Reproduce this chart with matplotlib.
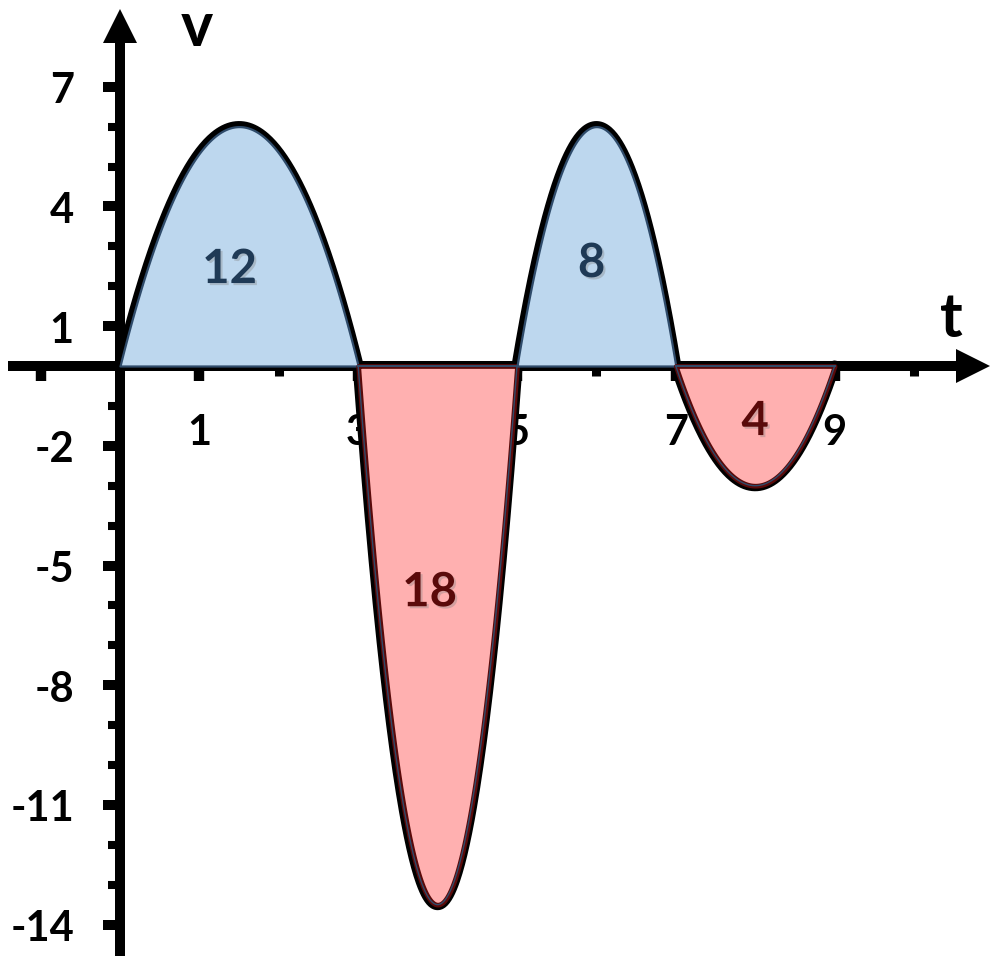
import numpy as np
import matplotlib
matplotlib.use("Agg")
import matplotlib.pyplot as plt
from matplotlib.patches import Polygon
from matplotlib.ticker import FixedLocator, FixedFormatter, NullFormatter
import matplotlib.patheffects as pe

# ---------------- data ----------------
roots = [0, 3, 5, 7, 9]            # zero crossings of v(t)
extrema = [6, -13.5, 6, -3]        # peak value of each lobe
areas = ["12", "18", "8", "4"]     # area label of each lobe
x_major = [-1, 1, 3, 5, 7, 9]
x_minor = [0, 2, 4, 6, 8, 10]
x_labels = ["", "1", "3", "5", "7", "9"]
y_major = [7, 4, 1, -2, -5, -8, -11, -14]
y_minor = [6, 5, 3, 2, 0, -1, -3, -4, -6, -7, -9, -10, -12, -13]
y_labels = ["7", "4", "1", "-2", "-5", "-8", "-11", "-14"]

# ---------------- style ----------------
FONT = "Lato"
pos_fill = "#bdd7ee"
neg_fill = "#ffb0b0"
pos_text = "#1f3a56"
neg_text = "#5a0a0a"
edge_blue = "#2f4b6a"
label_dx = [-0.12, -0.1, -0.06, 0.0]
label_fy = [0.405, 0.42, 0.43, 0.46]

fig = plt.figure(figsize=(10, 9.7), dpi=100)
ax = fig.add_axes([0, 0, 1, 1])
ax.set_facecolor("white")

px_x = 79.4   # px per x unit
px_y = 39.9   # px per y unit
x0_px, y0_px = 120, 367
ax.set_xlim(-x0_px / px_x, (1000 - x0_px) / px_x)
ax.set_ylim((y0_px - 970) / px_y, y0_px / px_y)

# spines as axes through origin
for s in ["top", "right"]:
    ax.spines[s].set_visible(False)
for s in ["left", "bottom"]:
    ax.spines[s].set_position(("data", 0))
    ax.spines[s].set_linewidth(7.2)
    ax.spines[s].set_capstyle("butt")
    ax.spines[s].set_zorder(2.5)
x_lo, x_hi = (8 - x0_px) / px_x, (958 - x0_px) / px_x
y_lo, y_hi = (y0_px - 957) / px_y, (y0_px - 42) / px_y
ax.spines["bottom"].set_bounds(x_lo, x_hi)
ax.spines["left"].set_bounds(y_lo, y_hi)

# arrow heads
hl, hw = 34, 17
ax.add_patch(Polygon([[x_hi - 2 / px_x, hw / px_y], [x_hi + (hl - 2) / px_x, 0],
                      [x_hi - 2 / px_x, -hw / px_y]], closed=True, color="black", lw=0, zorder=2.6))
ax.add_patch(Polygon([[-hw / px_x, y_hi - 2 / px_y], [0, y_hi + (hl - 2) / px_y],
                      [hw / px_x, y_hi - 2 / px_y]], closed=True, color="black", lw=0, zorder=2.6))

# ticks
ax.xaxis.set_major_locator(FixedLocator(x_major))
ax.xaxis.set_minor_locator(FixedLocator(x_minor))
ax.xaxis.set_major_formatter(FixedFormatter(x_labels))
ax.xaxis.set_minor_formatter(NullFormatter())
ax.yaxis.set_major_locator(FixedLocator(y_major))
ax.yaxis.set_minor_locator(FixedLocator(y_minor))
ax.yaxis.set_major_formatter(FixedFormatter(y_labels))
ax.yaxis.set_minor_formatter(NullFormatter())
ax.tick_params(axis="x", which="major", direction="out", length=10.8, width=7.5, pad=23,
               labelsize=30, color="black")
ax.tick_params(axis="x", which="minor", direction="out", length=7.2, width=6.5)
ax.tick_params(axis="y", which="major", direction="out", length=12.2, width=7.2, pad=21,
               labelsize=30)
ax.tick_params(axis="y", which="minor", direction="out", length=8.6, width=5.8)
for lab in ax.get_xticklabels() + ax.get_yticklabels():
    lab.set_fontfamily(FONT)
    lab.set_fontweight("bold")
ax.xaxis.set_zorder(1)
ax.yaxis.set_zorder(1)

# lobes
for i, ext in enumerate(extrema):
    a, b = roots[i], roots[i + 1]
    t = np.linspace(a, b, 200)
    v = ext * 4 * (t - a) * (b - t) / (b - a) ** 2
    ax.plot(t, v, color="black", lw=8.0, solid_capstyle="round", zorder=2.8)
    if ext > 0:
        ax.fill_between(t, 0, v, facecolor=pos_fill, edgecolor=edge_blue, lw=1.6, zorder=3)
        col = pos_text
    else:
        ax.fill_between(t, 0, v, facecolor=neg_fill, edgecolor=neg_text, lw=3.4, zorder=3)
        ax.plot(t, v, color=edge_blue, lw=1.0, zorder=3.1)
        ax.plot([a, b], [0, 0], color=edge_blue, lw=1.4, zorder=3.1)
        col = neg_text
    ax.text((a + b) / 2 + label_dx[i], ext * label_fy[i], areas[i], ha="center", va="center",
            fontsize=34, fontweight="bold", family=FONT, color=col, zorder=5,
            path_effects=[pe.withSimplePatchShadow(offset=(1.5, -1.5), shadow_rgbFace="gray", alpha=0.35)])

# axis names
ax.text(0.97, 8.5, "v", ha="center", va="center", fontsize=44, fontweight="bold", family=FONT)
ax.text(10.47, 1.2, "t", ha="center", va="center", fontsize=44, fontweight="bold", family=FONT)

fig.savefig("out.png", dpi=100)
